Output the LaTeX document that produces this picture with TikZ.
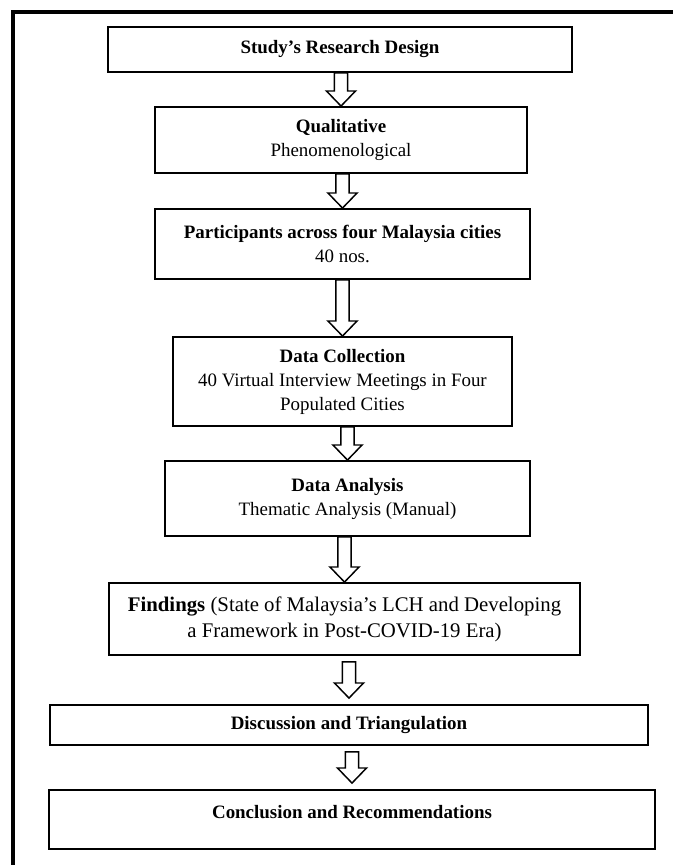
\documentclass[tikz,border=0pt]{standalone}
\usepackage{fontspec}
\setmainfont{Liberation Serif}
\usetikzlibrary{calc}

\newcommand\flowarrow[3][0pt]{%
  \draw[hollowarrow] let \p1=(#2.south), \p2=(#3.north) in
    (\x2-4.9pt,\y1-#1) -- (\x2-4.9pt,\y2+#1+11.3pt) -- (\x2-10.9pt,\y2+#1+11.3pt)
    -- (\x2,\y2+#1) -- (\x2+10.9pt,\y2+#1+11.3pt) -- (\x2+4.9pt,\y2+#1+11.3pt)
    -- (\x2+4.9pt,\y1-#1) -- cycle;}

\begin{document}
\begin{tikzpicture}[x=0.75pt, y=-0.75pt,
    stage/.style 2 args={draw, line width=1.4pt, align=center, inner sep=2pt,
      minimum width=#1*0.75pt, minimum height=#2*0.75pt,
      font=\fontsize{14.2}{18}\selectfont},
    hollowarrow/.style={draw, line width=1.1pt, fill=white, line join=miter}]
  \useasboundingbox (0,0) rectangle (673,865);
  \draw[line width=3.4pt] (13,865) -- (13,12) -- (673,12);

  \node[stage={464}{45}] (design) at (340,49.5) {\textbf{Study's Research Design}};
  \node[stage={372}{66}] (quali) at (341,140) {\textbf{Qualitative}\\Phenomenological};
  \node[stage={375}{70}] (particip) at (342.5,244) {\textbf{Participants across four Malaysia cities}\\40 nos.};
  \node[stage={339}{89}] (collect) at (342.5,381.5) {\textbf{Data Collection}\\40 Virtual Interview Meetings in Four\\Populated Cities};
  \node[stage={365}{75}] (analysis) at (347.5,498.5) {\textbf{Data Analysis}\\Thematic Analysis (Manual)};
  \node[stage={471}{72}, font=\fontsize{15.6}{19.5}\selectfont] (findings) at (344.5,619) {\textbf{Findings} (State of Malaysia's LCH and Developing\\a Framework in Post-COVID-19 Era)};
  \node[stage={598}{40}] (discuss) at (349,725) {\textbf{Discussion and Triangulation}};
  \node[stage={606}{59}, text depth=12pt] (conclude) at (352,819.5) {\textbf{Conclusion and Recommendations}};

  \flowarrow{design}{quali}
  \flowarrow{quali}{particip}
  \flowarrow{particip}{collect}
  \flowarrow{collect}{analysis}
  \flowarrow{analysis}{findings}
  \flowarrow[4.5pt]{findings}{discuss}
  \flowarrow[4.5pt]{discuss}{conclude}
\end{tikzpicture}
\end{document}
